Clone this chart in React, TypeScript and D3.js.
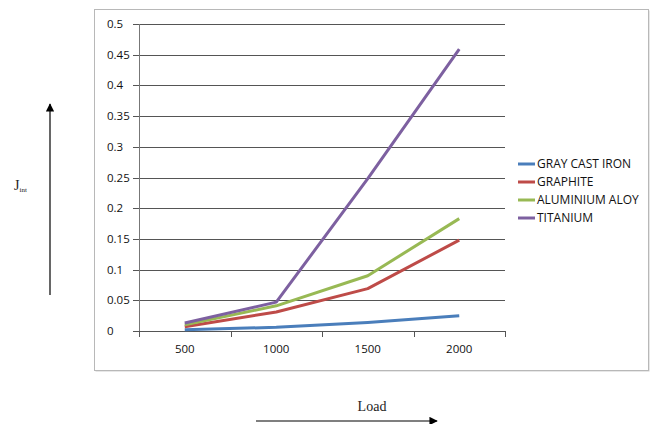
import React from "react";
import * as d3 from "d3";

const loads = ["500", "1000", "1500", "2000"];
const grayCastIron = [0.002, 0.006, 0.014, 0.025];
const graphite = [0.007, 0.031, 0.069, 0.148];
const aluminiumAloy = [0.01, 0.041, 0.09, 0.183];
const titanium = [0.013, 0.047, 0.248, 0.459];
const seriesNames = ["GRAY CAST IRON", "GRAPHITE", "ALUMINIUM ALOY", "TITANIUM"];
const seriesColors = ["#4A7EBB", "#BE4B48", "#98B954", "#7D60A0"];
const yTicks = [0, 0.05, 0.1, 0.15, 0.2, 0.25, 0.3, 0.35, 0.4, 0.45, 0.5];

const W = 653;
const H = 424;
const plot = { left: 139, right: 505, top: 24, bottom: 331 };
const tickFont = "'Open Sans', 'Liberation Sans', sans-serif";

export default function App() {
  const series = [grayCastIron, graphite, aluminiumAloy, titanium];
  const x = d3.scaleBand<string>().domain(loads).range([plot.left, plot.right]);
  const y = d3.scaleLinear().domain([0, 0.5]).range([plot.bottom, plot.top]);
  const line = d3
    .line<number>()
    .x((_, i) => (x(loads[i]) as number) + x.bandwidth() / 2)
    .y((d) => y(d));
  const boundaries = loads.map((l) => x(l) as number).concat([plot.right]);

  return (
    <svg
      width={W}
      height={H}
      style={{ position: "absolute", left: 0, top: 0, background: "#fff" }}
    >
      <defs>
        <marker id="arrowHead" viewBox="0 0 10 10" refX="9" refY="5" markerWidth="7" markerHeight="7" orient="auto">
          <path d="M0,0 L10,5 L0,10 z" fill="#000" />
        </marker>
      </defs>
      {/* chart frame */}
      <rect x={95.5} y={10.5} width={554} height={361} fill="#d0d0d0" />
      <rect x={94.5} y={9.5} width={554} height={361} fill="#fff" stroke="#b8b8b8" strokeWidth={1} />

      {/* horizontal gridlines and y ticks */}
      {yTicks.map((t) => (
        <g key={t}>
          <line x1={133} x2={plot.right} y1={Math.round(y(t)) + 0.5} y2={Math.round(y(t)) + 0.5} stroke="#555" strokeWidth={1} />
          <text x={107} y={y(t) + 4} fontSize={11.5} fontFamily={tickFont} fill="#111">
            {String(t)}
          </text>
        </g>
      ))}
      {/* y axis */}
      <line x1={plot.left + 0.5} x2={plot.left + 0.5} y1={plot.top} y2={plot.bottom} stroke="#777" />
      {/* x ticks and labels */}
      {boundaries.map((b, i) => (
        <line key={i} x1={Math.round(b) + 0.5} x2={Math.round(b) + 0.5} y1={plot.bottom} y2={plot.bottom + 6} stroke="#555" />
      ))}
      {loads.map((l) => (
        <text
          key={l}
          x={(x(l) as number) + x.bandwidth() / 2}
          y={353}
          fontSize={11.5}
          fontFamily={tickFont}
          fill="#111"
          textAnchor="middle"
        >
          {l}
        </text>
      ))}

      {/* data lines */}
      {series.map((s, i) => (
        <path key={i} d={line(s) ?? ""} fill="none" stroke={seriesColors[i]} strokeWidth={3} strokeLinejoin="round" />
      ))}

      {/* legend */}
      {seriesNames.map((n, i) => (
        <g key={n} transform={`translate(0, ${164 + i * 18})`}>
          <line x1={518} x2={535} y1={0} y2={0} stroke={seriesColors[i]} strokeWidth={3} />
          <text x={537} y={4} fontSize={12} fontFamily={tickFont} fill="#111">
            {n}
          </text>
        </g>
      ))}

      {/* y-axis title with arrow */}
      <line x1={50} x2={50} y1={295} y2={104} stroke="#000" strokeWidth={1.2} markerEnd="url(#arrowHead)" />
      <text x={14} y={190} fontSize={14} fontFamily="'Liberation Serif', serif" fill="#222">
        J<tspan fontSize={7} dy={2}>int</tspan>
      </text>

      {/* x-axis title with arrow */}
      <text x={372} y={411} fontSize={14} fontFamily="'Liberation Serif', serif" fill="#222" textAnchor="middle">
        Load
      </text>
      <line x1={256} x2={437} y1={421} y2={421} stroke="#000" strokeWidth={1.2} markerEnd="url(#arrowHead)" />
    </svg>
  );
}
